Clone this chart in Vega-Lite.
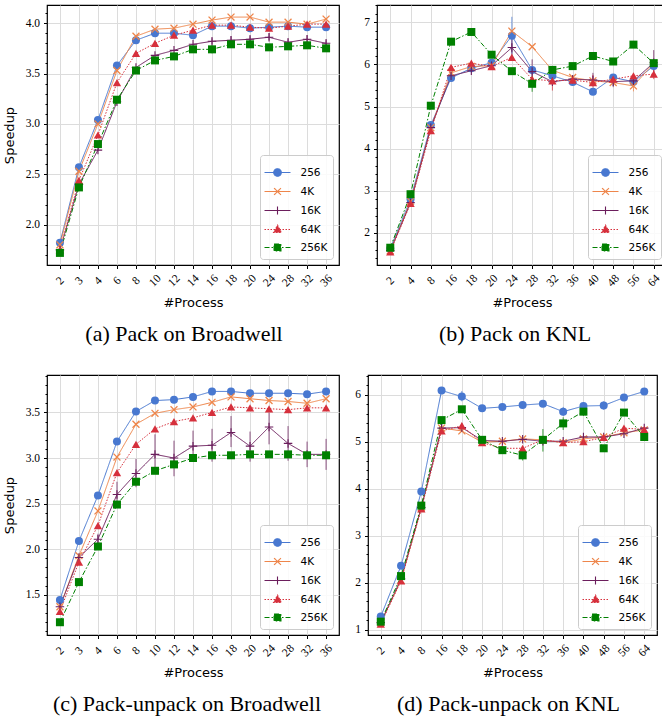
{
"$schema": "https://vega.github.io/schema/vega-lite/v6.json",
"padding": {"left": 2, "top": 3, "right": 0, "bottom": 0},
"autosize": {"type": "pad"},
"bounds": "full",
"spacing": 27,
"config": {
  "view": {"stroke": "black", "strokeWidth": 1.2},
  "axis": {"labelFont": "Liberation Serif", "labelFontSize": 11.5, "labelColor": "black", "titleFont": "DejaVu Sans", "titleFontSize": 13, "titleFontWeight": "normal", "titleColor": "black", "tickColor": "black", "tickSize": 3.5, "tickWidth": 1, "domain": false, "grid": true, "gridColor": "#dcdcdc", "gridWidth": 1},
  "axisX": {"labelAngle": -45, "labelAlign": "center", "labelBaseline": "middle", "labelPadding": 12, "titlePadding": 8, "labelOverlap": false},
  "axisY": {"labelPadding": 4, "titlePadding": 9},
  "legend": {"orient": "bottom-right", "offset": 6, "padding": 5, "fillColor": "rgba(255,255,255,0.85)", "strokeColor": "#cccccc", "cornerRadius": 3, "labelFont": "DejaVu Sans", "labelFontSize": 10.5, "labelColor": "black", "symbolSize": 529, "symbolOpacity": 1, "symbolStrokeWidth": 1.1, "labelOffset": 10.5, "rowPadding": 0},
  "title": {"font": "Liberation Serif", "fontSize": 22, "fontWeight": "normal", "color": "black", "orient": "bottom", "frame": "group", "anchor": "middle", "offset": 15, "baseline": "top"}
},
"datasets": {
"a": [
{"s":"256","p":2,"v":1.82},{"s":"256","p":3,"v":2.57},{"s":"256","p":4,"v":3.04},{"s":"256","p":6,"v":3.58},{"s":"256","p":8,"v":3.83},{"s":"256","p":10,"v":3.90},{"s":"256","p":12,"v":3.90},{"s":"256","p":14,"v":3.88},{"s":"256","p":16,"v":3.97},{"s":"256","p":18,"v":3.97},{"s":"256","p":20,"v":3.95},{"s":"256","p":24,"v":3.96},{"s":"256","p":28,"v":3.97},{"s":"256","p":32,"v":3.96},{"s":"256","p":36,"v":3.96},
{"s":"4K","p":2,"v":1.80},{"s":"4K","p":3,"v":2.53},{"s":"4K","p":4,"v":3.00},{"s":"4K","p":6,"v":3.53},{"s":"4K","p":8,"v":3.87},{"s":"4K","p":10,"v":3.94},{"s":"4K","p":12,"v":3.95},{"s":"4K","p":14,"v":3.99},{"s":"4K","p":16,"v":4.03},{"s":"4K","p":18,"v":4.06},{"s":"4K","p":20,"v":4.06},{"s":"4K","p":24,"v":4.01},{"s":"4K","p":28,"v":4.01},{"s":"4K","p":32,"v":3.99},{"s":"4K","p":36,"v":4.04},
{"s":"16K","p":2,"v":1.75},{"s":"16K","p":3,"v":2.40},{"s":"16K","p":4,"v":2.74},{"s":"16K","p":6,"v":3.22},{"s":"16K","p":8,"v":3.56},{"s":"16K","p":10,"v":3.68},{"s":"16K","p":12,"v":3.73},{"s":"16K","p":14,"v":3.79},{"s":"16K","p":16,"v":3.82,"lo":3.79,"hi":3.85},{"s":"16K","p":18,"v":3.83,"lo":3.79,"hi":3.87},{"s":"16K","p":20,"v":3.84,"lo":3.81,"hi":3.87},{"s":"16K","p":24,"v":3.86,"lo":3.83,"hi":3.90},{"s":"16K","p":28,"v":3.81,"lo":3.78,"hi":3.84},{"s":"16K","p":32,"v":3.84,"lo":3.81,"hi":3.88},{"s":"16K","p":36,"v":3.80,"lo":3.77,"hi":3.83},
{"s":"64K","p":2,"v":1.75},{"s":"64K","p":3,"v":2.44},{"s":"64K","p":4,"v":2.89},{"s":"64K","p":6,"v":3.41},{"s":"64K","p":8,"v":3.70},{"s":"64K","p":10,"v":3.80},{"s":"64K","p":12,"v":3.88},{"s":"64K","p":14,"v":3.93},{"s":"64K","p":16,"v":3.98},{"s":"64K","p":18,"v":3.98},{"s":"64K","p":20,"v":3.96},{"s":"64K","p":24,"v":3.95},{"s":"64K","p":28,"v":3.97},{"s":"64K","p":32,"v":3.99},{"s":"64K","p":36,"v":3.99},
{"s":"256K","p":2,"v":1.72},{"s":"256K","p":3,"v":2.37},{"s":"256K","p":4,"v":2.80},{"s":"256K","p":6,"v":3.24},{"s":"256K","p":8,"v":3.53},{"s":"256K","p":10,"v":3.63},{"s":"256K","p":12,"v":3.67},{"s":"256K","p":14,"v":3.74},{"s":"256K","p":16,"v":3.74,"lo":3.70,"hi":3.78},{"s":"256K","p":18,"v":3.79},{"s":"256K","p":20,"v":3.79},{"s":"256K","p":24,"v":3.76},{"s":"256K","p":28,"v":3.77},{"s":"256K","p":32,"v":3.78},{"s":"256K","p":36,"v":3.75}
],
"b": [
{"s":"256","p":2,"v":1.63},{"s":"256","p":4,"v":2.80},{"s":"256","p":8,"v":4.56},{"s":"256","p":16,"v":5.68},{"s":"256","p":18,"v":5.91},{"s":"256","p":20,"v":6.04},{"s":"256","p":24,"v":6.68,"lo":6.26,"hi":7.13},{"s":"256","p":28,"v":5.87},{"s":"256","p":32,"v":5.73},{"s":"256","p":36,"v":5.58},{"s":"256","p":40,"v":5.35},{"s":"256","p":48,"v":5.69},{"s":"256","p":56,"v":5.59},{"s":"256","p":64,"v":5.96},
{"s":"4K","p":2,"v":1.58},{"s":"4K","p":4,"v":2.75},{"s":"4K","p":8,"v":4.50},{"s":"4K","p":16,"v":5.80},{"s":"4K","p":18,"v":5.95},{"s":"4K","p":20,"v":5.97},{"s":"4K","p":24,"v":6.79},{"s":"4K","p":28,"v":6.42},{"s":"4K","p":32,"v":5.86},{"s":"4K","p":36,"v":5.69},{"s":"4K","p":40,"v":5.61},{"s":"4K","p":48,"v":5.57},{"s":"4K","p":56,"v":5.49,"lo":5.36,"hi":5.60},{"s":"4K","p":64,"v":6.03},
{"s":"16K","p":2,"v":1.58},{"s":"16K","p":4,"v":2.72},{"s":"16K","p":8,"v":4.50},{"s":"16K","p":16,"v":5.73},{"s":"16K","p":18,"v":5.85},{"s":"16K","p":20,"v":5.97},{"s":"16K","p":24,"v":6.40,"lo":6.15,"hi":6.65},{"s":"16K","p":28,"v":5.83,"lo":5.60,"hi":6.12},{"s":"16K","p":32,"v":5.59},{"s":"16K","p":36,"v":5.65},{"s":"16K","p":40,"v":5.63,"lo":5.50,"hi":5.80},{"s":"16K","p":48,"v":5.59,"lo":5.46,"hi":5.74},{"s":"16K","p":56,"v":5.61},{"s":"16K","p":64,"v":6.04,"lo":5.75,"hi":6.34},
{"s":"64K","p":2,"v":1.55},{"s":"64K","p":4,"v":2.70},{"s":"64K","p":8,"v":4.43},{"s":"64K","p":16,"v":5.93},{"s":"64K","p":18,"v":6.03},{"s":"64K","p":20,"v":5.95},{"s":"64K","p":24,"v":6.17},{"s":"64K","p":28,"v":5.65},{"s":"64K","p":32,"v":5.61,"lo":5.38,"hi":5.84},{"s":"64K","p":36,"v":5.63},{"s":"64K","p":40,"v":5.57,"lo":5.45,"hi":5.75},{"s":"64K","p":48,"v":5.65},{"s":"64K","p":56,"v":5.73},{"s":"64K","p":64,"v":5.77,"lo":5.65,"hi":5.92},
{"s":"256K","p":2,"v":1.65},{"s":"256K","p":4,"v":2.92},{"s":"256K","p":8,"v":5.02},{"s":"256K","p":16,"v":6.54},{"s":"256K","p":18,"v":6.77},{"s":"256K","p":20,"v":6.23},{"s":"256K","p":24,"v":5.84},{"s":"256K","p":28,"v":5.54,"lo":5.35,"hi":5.72},{"s":"256K","p":32,"v":5.87},{"s":"256K","p":36,"v":5.96},{"s":"256K","p":40,"v":6.20},{"s":"256K","p":48,"v":6.07},{"s":"256K","p":56,"v":6.47},{"s":"256K","p":64,"v":6.03}
],
"c": [
{"s":"256","p":2,"v":1.445},{"s":"256","p":3,"v":2.09},{"s":"256","p":4,"v":2.59},{"s":"256","p":6,"v":3.18},{"s":"256","p":8,"v":3.51},{"s":"256","p":10,"v":3.63},{"s":"256","p":12,"v":3.64},{"s":"256","p":14,"v":3.67},{"s":"256","p":16,"v":3.73},{"s":"256","p":18,"v":3.73},{"s":"256","p":20,"v":3.71},{"s":"256","p":24,"v":3.71},{"s":"256","p":28,"v":3.71},{"s":"256","p":32,"v":3.70},{"s":"256","p":36,"v":3.73},
{"s":"4K","p":2,"v":1.37},{"s":"4K","p":3,"v":1.93},{"s":"4K","p":4,"v":2.42},{"s":"4K","p":6,"v":3.01},{"s":"4K","p":8,"v":3.37},{"s":"4K","p":10,"v":3.49},{"s":"4K","p":12,"v":3.53},{"s":"4K","p":14,"v":3.56},{"s":"4K","p":16,"v":3.61},{"s":"4K","p":18,"v":3.67},{"s":"4K","p":20,"v":3.65},{"s":"4K","p":24,"v":3.63},{"s":"4K","p":28,"v":3.62},{"s":"4K","p":32,"v":3.60},{"s":"4K","p":36,"v":3.65},
{"s":"16K","p":2,"v":1.37},{"s":"16K","p":3,"v":1.91},{"s":"16K","p":4,"v":2.11,"lo":2.05,"hi":2.17},{"s":"16K","p":6,"v":2.60,"lo":2.47,"hi":2.74},{"s":"16K","p":8,"v":2.83,"lo":2.68,"hi":2.99},{"s":"16K","p":10,"v":3.04,"lo":2.84,"hi":3.26},{"s":"16K","p":12,"v":3.00,"lo":2.80,"hi":3.19},{"s":"16K","p":14,"v":3.13,"lo":2.97,"hi":3.30},{"s":"16K","p":16,"v":3.14,"lo":2.96,"hi":3.32},{"s":"16K","p":18,"v":3.28,"lo":3.12,"hi":3.46},{"s":"16K","p":20,"v":3.13,"lo":2.96,"hi":3.29},{"s":"16K","p":24,"v":3.34,"lo":3.15,"hi":3.50},{"s":"16K","p":28,"v":3.16,"lo":2.97,"hi":3.35},{"s":"16K","p":32,"v":3.04,"lo":2.90,"hi":3.18},{"s":"16K","p":36,"v":3.04,"lo":2.87,"hi":3.21},
{"s":"64K","p":2,"v":1.32},{"s":"64K","p":3,"v":1.86},{"s":"64K","p":4,"v":2.26},{"s":"64K","p":6,"v":2.84},{"s":"64K","p":8,"v":3.15},{"s":"64K","p":10,"v":3.32},{"s":"64K","p":12,"v":3.40},{"s":"64K","p":14,"v":3.44},{"s":"64K","p":16,"v":3.50},{"s":"64K","p":18,"v":3.56},{"s":"64K","p":20,"v":3.55},{"s":"64K","p":24,"v":3.54},{"s":"64K","p":28,"v":3.53},{"s":"64K","p":32,"v":3.55},{"s":"64K","p":36,"v":3.55},
{"s":"256K","p":2,"v":1.20},{"s":"256K","p":3,"v":1.64},{"s":"256K","p":4,"v":2.03},{"s":"256K","p":6,"v":2.49},{"s":"256K","p":8,"v":2.74},{"s":"256K","p":10,"v":2.86},{"s":"256K","p":12,"v":2.93},{"s":"256K","p":14,"v":3.00},{"s":"256K","p":16,"v":3.03},{"s":"256K","p":18,"v":3.03},{"s":"256K","p":20,"v":3.04},{"s":"256K","p":24,"v":3.04},{"s":"256K","p":28,"v":3.04},{"s":"256K","p":32,"v":3.03},{"s":"256K","p":36,"v":3.03}
],
"d": [
{"s":"256","p":2,"v":1.28},{"s":"256","p":4,"v":2.36},{"s":"256","p":8,"v":3.94},{"s":"256","p":16,"v":6.09},{"s":"256","p":18,"v":5.96,"lo":5.86,"hi":6.08},{"s":"256","p":20,"v":5.71},{"s":"256","p":24,"v":5.74},{"s":"256","p":28,"v":5.78},{"s":"256","p":32,"v":5.81},{"s":"256","p":36,"v":5.64,"lo":5.55,"hi":5.74},{"s":"256","p":40,"v":5.76},{"s":"256","p":48,"v":5.77,"lo":5.68,"hi":5.86},{"s":"256","p":56,"v":5.94},{"s":"256","p":64,"v":6.07},
{"s":"4K","p":2,"v":1.15},{"s":"4K","p":4,"v":2.05},{"s":"4K","p":8,"v":3.60},{"s":"4K","p":16,"v":5.29},{"s":"4K","p":18,"v":5.23},{"s":"4K","p":20,"v":4.99},{"s":"4K","p":24,"v":5.01},{"s":"4K","p":28,"v":5.06},{"s":"4K","p":32,"v":5.04},{"s":"4K","p":36,"v":4.98},{"s":"4K","p":40,"v":5.06},{"s":"4K","p":48,"v":5.10},{"s":"4K","p":56,"v":5.19},{"s":"4K","p":64,"v":5.25},
{"s":"16K","p":2,"v":1.15},{"s":"16K","p":4,"v":2.08},{"s":"16K","p":8,"v":3.60},{"s":"16K","p":16,"v":5.29},{"s":"16K","p":18,"v":5.30},{"s":"16K","p":20,"v":5.03},{"s":"16K","p":24,"v":5.01},{"s":"16K","p":28,"v":5.05},{"s":"16K","p":32,"v":5.01},{"s":"16K","p":36,"v":5.01},{"s":"16K","p":40,"v":5.10},{"s":"16K","p":48,"v":5.10},{"s":"16K","p":56,"v":5.17},{"s":"16K","p":64,"v":5.29},
{"s":"64K","p":2,"v":1.12},{"s":"64K","p":4,"v":2.04},{"s":"64K","p":8,"v":3.57},{"s":"64K","p":16,"v":5.23},{"s":"64K","p":18,"v":5.34},{"s":"64K","p":20,"v":4.98},{"s":"64K","p":24,"v":4.86},{"s":"64K","p":28,"v":4.86},{"s":"64K","p":32,"v":5.04},{"s":"64K","p":36,"v":4.98},{"s":"64K","p":40,"v":5.00},{"s":"64K","p":48,"v":5.09},{"s":"64K","p":56,"v":5.29},{"s":"64K","p":64,"v":5.26},
{"s":"256K","p":2,"v":1.17},{"s":"256K","p":4,"v":2.14},{"s":"256K","p":8,"v":3.64},{"s":"256K","p":16,"v":5.46},{"s":"256K","p":18,"v":5.69},{"s":"256K","p":20,"v":5.04},{"s":"256K","p":24,"v":4.82},{"s":"256K","p":28,"v":4.71,"lo":4.60,"hi":4.82},{"s":"256K","p":32,"v":5.04,"lo":4.79,"hi":5.27},{"s":"256K","p":36,"v":5.39,"lo":5.25,"hi":5.52},{"s":"256K","p":40,"v":5.64,"lo":5.55,"hi":5.72},{"s":"256K","p":48,"v":4.86},{"s":"256K","p":56,"v":5.62},{"s":"256K","p":64,"v":5.10}
]
},
"resolve": {"scale": {"color": "independent", "shape": "independent", "stroke": "independent", "strokeDash": "independent"}},
"vconcat": [
{"hconcat": [
 {"width": 292, "height": 260, "data": {"name": "a"},
  "title": {"text": "(a) Pack on Broadwell", "dx": -9},
  "encoding": {
   "x": {"field": "p", "type": "ordinal", "scale": {"type": "point", "domain": [2,3,4,6,8,10,12,14,16,18,20,24,28,32,36], "padding": 0.68}, "axis": {"title": "#Process"}},
   "color": {"field": "s", "type": "nominal", "scale": {"domain": ["256","4K","16K","64K","256K"], "range": ["#4878d0","#ee854a","#6b1d5c","#d6303c","#008000"]}, "legend": {"title": null}}
  },
  "layer": [
   {"mark": {"type": "line", "strokeWidth": 1},
    "encoding": {"y": {"field": "v", "type": "quantitative", "scale": {"domain": [1.6,4.18], "nice": false, "zero": false}, "axis": {"title": "Speedup", "values": [2.0,2.5,3.0,3.5,4.0], "format": ".1f"}},
     "strokeDash": {"field": "s", "type": "nominal", "scale": {"domain": ["256","4K","16K","64K","256K"], "range": [[1,0],[1,0],[1,0],[1.5,1.5],[5,2,1.5,2]]}, "legend": {"title": null}}}},
   {"mark": {"type": "rule", "strokeWidth": 1, "opacity": 0.75},
    "encoding": {"y": {"field": "lo", "type": "quantitative", "scale": {"domain": [1.6,4.18], "nice": false, "zero": false}, "axis": {"orient": "left", "title": null, "labels": false, "grid": false, "domain": false, "tickSize": 2, "values": [1.7,1.8,1.9,2.0,2.1,2.2,2.3,2.4,2.5,2.6,2.7,2.8,2.9,3.0,3.1,3.2,3.3,3.4,3.5,3.6,3.7,3.8,3.9,4.0,4.1]}}, "y2": {"field": "hi"}}},
   {"transform": [{"filter": "datum.s==='256'"}], "mark": {"type": "point", "shape": "circle", "filled": true, "opacity": 1, "size": 64},
    "encoding": {"y": {"field": "v", "type": "quantitative", "scale": {"domain": [1.6,4.18], "nice": false, "zero": false}, "axis": null}}},
   {"transform": [{"filter": "datum.s==='4K'"}], "mark": {"type": "point", "shape": "M-1,-1L1,1M-1,1L1,-1", "filled": false, "strokeWidth": 1.3, "opacity": 1, "size": 48},
    "encoding": {"y": {"field": "v", "type": "quantitative", "scale": {"domain": [1.6,4.18], "nice": false, "zero": false}, "axis": null}}},
   {"transform": [{"filter": "datum.s==='16K'"}], "mark": {"type": "point", "shape": "M-1,0H1M0,-1V1", "filled": false, "strokeWidth": 1.1, "opacity": 1, "size": 72},
    "encoding": {"y": {"field": "v", "type": "quantitative", "scale": {"domain": [1.6,4.18], "nice": false, "zero": false}, "axis": null}}},
   {"transform": [{"filter": "datum.s==='64K'"}], "mark": {"type": "point", "shape": "triangle-up", "filled": true, "opacity": 1, "size": 70},
    "encoding": {"y": {"field": "v", "type": "quantitative", "scale": {"domain": [1.6,4.18], "nice": false, "zero": false}, "axis": null}}},
   {"transform": [{"filter": "datum.s==='256K'"}], "mark": {"type": "point", "shape": "square", "filled": true, "opacity": 1, "size": 64},
    "encoding": {"y": {"field": "v", "type": "quantitative", "scale": {"domain": [1.6,4.18], "nice": false, "zero": false}, "axis": null}}},
   {"mark": {"type": "point", "filled": true, "opacity": 0, "size": 4},
    "encoding": {"y": {"field": "v", "type": "quantitative", "scale": {"domain": [1.6,4.18], "nice": false, "zero": false}, "axis": null},
     "shape": {"field": "s", "type": "nominal", "scale": {"domain": ["256","4K","16K","64K","256K"], "range": ["M-1.13,0H1.13M0.33,0A0.33,0.33 0 1,1 -0.33,0A0.33,0.33 0 1,1 0.33,0Z","M-1.13,0H1.13M-0.3,-0.3L0.3,0.3M-0.3,0.3L0.3,-0.3","M-1.13,0H1.13M0,-0.34V0.34","M-1.13,0H1.13M0,-0.37L0.34,0.25L-0.34,0.25Z","M-1.13,0H1.13M-0.3,-0.3H0.3V0.3H-0.3Z"]}, "legend": {"title": null}},
     "stroke": {"field": "s", "type": "nominal", "scale": {"domain": ["256","4K","16K","64K","256K"], "range": ["#4878d0","#ee854a","#6b1d5c","#d6303c","#008000"]}, "legend": {"title": null}}}}
  ],
  "resolve": {"axis": {"y": "independent"}}
 },
 {"width": 290, "height": 260, "data": {"name": "b"},
  "title": {"text": "(b) Pack on KNL", "dx": -7},
  "encoding": {
   "x": {"field": "p", "type": "ordinal", "scale": {"type": "point", "domain": [2,4,8,16,18,20,24,28,32,36,40,48,56,64], "padding": 0.655}, "axis": {"title": "#Process"}},
   "color": {"field": "s", "type": "nominal", "scale": {"domain": ["256","4K","16K","64K","256K"], "range": ["#4878d0","#ee854a","#6b1d5c","#d6303c","#008000"]}, "legend": {"title": null}}
  },
  "layer": [
   {"mark": {"type": "line", "strokeWidth": 1},
    "encoding": {"y": {"field": "v", "type": "quantitative", "scale": {"domain": [1.24,7.41], "nice": false, "zero": false}, "axis": {"title": null, "values": [2,3,4,5,6,7], "format": "d"}},
     "strokeDash": {"field": "s", "type": "nominal", "scale": {"domain": ["256","4K","16K","64K","256K"], "range": [[1,0],[1,0],[1,0],[1.5,1.5],[5,2,1.5,2]]}, "legend": {"title": null}}}},
   {"mark": {"type": "rule", "strokeWidth": 1, "opacity": 0.75},
    "encoding": {"y": {"field": "lo", "type": "quantitative", "scale": {"domain": [1.24,7.41], "nice": false, "zero": false}, "axis": {"orient": "left", "title": null, "labels": false, "grid": false, "domain": false, "tickSize": 2, "values": [1.4,1.6,1.8,2.0,2.2,2.4,2.6,2.8,3.0,3.2,3.4,3.6,3.8,4.0,4.2,4.4,4.6,4.8,5.0,5.2,5.4,5.6,5.8,6.0,6.2,6.4,6.6,6.8,7.0,7.2,7.4]}}, "y2": {"field": "hi"}}},
   {"transform": [{"filter": "datum.s==='256'"}], "mark": {"type": "point", "shape": "circle", "filled": true, "opacity": 1, "size": 64},
    "encoding": {"y": {"field": "v", "type": "quantitative", "scale": {"domain": [1.24,7.41], "nice": false, "zero": false}, "axis": null}}},
   {"transform": [{"filter": "datum.s==='4K'"}], "mark": {"type": "point", "shape": "M-1,-1L1,1M-1,1L1,-1", "filled": false, "strokeWidth": 1.3, "opacity": 1, "size": 48},
    "encoding": {"y": {"field": "v", "type": "quantitative", "scale": {"domain": [1.24,7.41], "nice": false, "zero": false}, "axis": null}}},
   {"transform": [{"filter": "datum.s==='16K'"}], "mark": {"type": "point", "shape": "M-1,0H1M0,-1V1", "filled": false, "strokeWidth": 1.1, "opacity": 1, "size": 72},
    "encoding": {"y": {"field": "v", "type": "quantitative", "scale": {"domain": [1.24,7.41], "nice": false, "zero": false}, "axis": null}}},
   {"transform": [{"filter": "datum.s==='64K'"}], "mark": {"type": "point", "shape": "triangle-up", "filled": true, "opacity": 1, "size": 70},
    "encoding": {"y": {"field": "v", "type": "quantitative", "scale": {"domain": [1.24,7.41], "nice": false, "zero": false}, "axis": null}}},
   {"transform": [{"filter": "datum.s==='256K'"}], "mark": {"type": "point", "shape": "square", "filled": true, "opacity": 1, "size": 64},
    "encoding": {"y": {"field": "v", "type": "quantitative", "scale": {"domain": [1.24,7.41], "nice": false, "zero": false}, "axis": null}}},
   {"mark": {"type": "point", "filled": true, "opacity": 0, "size": 4},
    "encoding": {"y": {"field": "v", "type": "quantitative", "scale": {"domain": [1.24,7.41], "nice": false, "zero": false}, "axis": null},
     "shape": {"field": "s", "type": "nominal", "scale": {"domain": ["256","4K","16K","64K","256K"], "range": ["M-1.13,0H1.13M0.33,0A0.33,0.33 0 1,1 -0.33,0A0.33,0.33 0 1,1 0.33,0Z","M-1.13,0H1.13M-0.3,-0.3L0.3,0.3M-0.3,0.3L0.3,-0.3","M-1.13,0H1.13M0,-0.34V0.34","M-1.13,0H1.13M0,-0.37L0.34,0.25L-0.34,0.25Z","M-1.13,0H1.13M-0.3,-0.3H0.3V0.3H-0.3Z"]}, "legend": {"title": null}},
     "stroke": {"field": "s", "type": "nominal", "scale": {"domain": ["256","4K","16K","64K","256K"], "range": ["#4878d0","#ee854a","#6b1d5c","#d6303c","#008000"]}, "legend": {"title": null}}}}
  ],
  "resolve": {"axis": {"y": "independent"}}
 }
], "spacing": 38, "bounds": "flush",
 "resolve": {"scale": {"color": "independent", "shape": "independent", "stroke": "independent", "strokeDash": "independent"}}},
{"hconcat": [
 {"width": 292, "height": 260, "data": {"name": "c"},
  "title": {"text": "(c) Pack-unpack on Broadwell", "dx": -6},
  "encoding": {
   "x": {"field": "p", "type": "ordinal", "scale": {"type": "point", "domain": [2,3,4,6,8,10,12,14,16,18,20,24,28,32,36], "padding": 0.68}, "axis": {"title": "#Process"}},
   "color": {"field": "s", "type": "nominal", "scale": {"domain": ["256","4K","16K","64K","256K"], "range": ["#4878d0","#ee854a","#6b1d5c","#d6303c","#008000"]}, "legend": {"title": null}}
  },
  "layer": [
   {"mark": {"type": "line", "strokeWidth": 1},
    "encoding": {"y": {"field": "v", "type": "quantitative", "scale": {"domain": [1.06,3.91], "nice": false, "zero": false}, "axis": {"title": "Speedup", "values": [1.5,2.0,2.5,3.0,3.5], "format": ".1f"}},
     "strokeDash": {"field": "s", "type": "nominal", "scale": {"domain": ["256","4K","16K","64K","256K"], "range": [[1,0],[1,0],[1,0],[1.5,1.5],[5,2,1.5,2]]}, "legend": {"title": null}}}},
   {"mark": {"type": "rule", "strokeWidth": 1, "opacity": 0.75},
    "encoding": {"y": {"field": "lo", "type": "quantitative", "scale": {"domain": [1.06,3.91], "nice": false, "zero": false}, "axis": {"orient": "left", "title": null, "labels": false, "grid": false, "domain": false, "tickSize": 2, "values": [1.1,1.2,1.3,1.4,1.5,1.6,1.7,1.8,1.9,2.0,2.1,2.2,2.3,2.4,2.5,2.6,2.7,2.8,2.9,3.0,3.1,3.2,3.3,3.4,3.5,3.6,3.7,3.8,3.9]}}, "y2": {"field": "hi"}}},
   {"transform": [{"filter": "datum.s==='256'"}], "mark": {"type": "point", "shape": "circle", "filled": true, "opacity": 1, "size": 64},
    "encoding": {"y": {"field": "v", "type": "quantitative", "scale": {"domain": [1.06,3.91], "nice": false, "zero": false}, "axis": null}}},
   {"transform": [{"filter": "datum.s==='4K'"}], "mark": {"type": "point", "shape": "M-1,-1L1,1M-1,1L1,-1", "filled": false, "strokeWidth": 1.3, "opacity": 1, "size": 48},
    "encoding": {"y": {"field": "v", "type": "quantitative", "scale": {"domain": [1.06,3.91], "nice": false, "zero": false}, "axis": null}}},
   {"transform": [{"filter": "datum.s==='16K'"}], "mark": {"type": "point", "shape": "M-1,0H1M0,-1V1", "filled": false, "strokeWidth": 1.1, "opacity": 1, "size": 72},
    "encoding": {"y": {"field": "v", "type": "quantitative", "scale": {"domain": [1.06,3.91], "nice": false, "zero": false}, "axis": null}}},
   {"transform": [{"filter": "datum.s==='64K'"}], "mark": {"type": "point", "shape": "triangle-up", "filled": true, "opacity": 1, "size": 70},
    "encoding": {"y": {"field": "v", "type": "quantitative", "scale": {"domain": [1.06,3.91], "nice": false, "zero": false}, "axis": null}}},
   {"transform": [{"filter": "datum.s==='256K'"}], "mark": {"type": "point", "shape": "square", "filled": true, "opacity": 1, "size": 64},
    "encoding": {"y": {"field": "v", "type": "quantitative", "scale": {"domain": [1.06,3.91], "nice": false, "zero": false}, "axis": null}}},
   {"mark": {"type": "point", "filled": true, "opacity": 0, "size": 4},
    "encoding": {"y": {"field": "v", "type": "quantitative", "scale": {"domain": [1.06,3.91], "nice": false, "zero": false}, "axis": null},
     "shape": {"field": "s", "type": "nominal", "scale": {"domain": ["256","4K","16K","64K","256K"], "range": ["M-1.13,0H1.13M0.33,0A0.33,0.33 0 1,1 -0.33,0A0.33,0.33 0 1,1 0.33,0Z","M-1.13,0H1.13M-0.3,-0.3L0.3,0.3M-0.3,0.3L0.3,-0.3","M-1.13,0H1.13M0,-0.34V0.34","M-1.13,0H1.13M0,-0.37L0.34,0.25L-0.34,0.25Z","M-1.13,0H1.13M-0.3,-0.3H0.3V0.3H-0.3Z"]}, "legend": {"title": null}},
     "stroke": {"field": "s", "type": "nominal", "scale": {"domain": ["256","4K","16K","64K","256K"], "range": ["#4878d0","#ee854a","#6b1d5c","#d6303c","#008000"]}, "legend": {"title": null}}}}
  ],
  "resolve": {"axis": {"y": "independent"}}
 },
 {"width": 289, "height": 260, "data": {"name": "d"},
  "title": {"text": "(d) Pack-unpack on KNL", "dx": -4},
  "encoding": {
   "x": {"field": "p", "type": "ordinal", "scale": {"type": "point", "domain": [2,4,8,16,18,20,24,28,32,36,40,48,56,64], "padding": 0.63}, "axis": {"title": "#Process"}},
   "color": {"field": "s", "type": "nominal", "scale": {"domain": ["256","4K","16K","64K","256K"], "range": ["#4878d0","#ee854a","#6b1d5c","#d6303c","#008000"]}, "legend": {"title": null}}
  },
  "layer": [
   {"mark": {"type": "line", "strokeWidth": 1},
    "encoding": {"y": {"field": "v", "type": "quantitative", "scale": {"domain": [0.886,6.42], "nice": false, "zero": false}, "axis": {"title": null, "values": [1,2,3,4,5,6], "format": "d"}},
     "strokeDash": {"field": "s", "type": "nominal", "scale": {"domain": ["256","4K","16K","64K","256K"], "range": [[1,0],[1,0],[1,0],[1.5,1.5],[5,2,1.5,2]]}, "legend": {"title": null}}}},
   {"mark": {"type": "rule", "strokeWidth": 1, "opacity": 0.75},
    "encoding": {"y": {"field": "lo", "type": "quantitative", "scale": {"domain": [0.886,6.42], "nice": false, "zero": false}, "axis": {"orient": "left", "title": null, "labels": false, "grid": false, "domain": false, "tickSize": 2, "values": [1.0,1.2,1.4,1.6,1.8,2.0,2.2,2.4,2.6,2.8,3.0,3.2,3.4,3.6,3.8,4.0,4.2,4.4,4.6,4.8,5.0,5.2,5.4,5.6,5.8,6.0,6.2,6.4]}}, "y2": {"field": "hi"}}},
   {"transform": [{"filter": "datum.s==='256'"}], "mark": {"type": "point", "shape": "circle", "filled": true, "opacity": 1, "size": 64},
    "encoding": {"y": {"field": "v", "type": "quantitative", "scale": {"domain": [0.886,6.42], "nice": false, "zero": false}, "axis": null}}},
   {"transform": [{"filter": "datum.s==='4K'"}], "mark": {"type": "point", "shape": "M-1,-1L1,1M-1,1L1,-1", "filled": false, "strokeWidth": 1.3, "opacity": 1, "size": 48},
    "encoding": {"y": {"field": "v", "type": "quantitative", "scale": {"domain": [0.886,6.42], "nice": false, "zero": false}, "axis": null}}},
   {"transform": [{"filter": "datum.s==='16K'"}], "mark": {"type": "point", "shape": "M-1,0H1M0,-1V1", "filled": false, "strokeWidth": 1.1, "opacity": 1, "size": 72},
    "encoding": {"y": {"field": "v", "type": "quantitative", "scale": {"domain": [0.886,6.42], "nice": false, "zero": false}, "axis": null}}},
   {"transform": [{"filter": "datum.s==='64K'"}], "mark": {"type": "point", "shape": "triangle-up", "filled": true, "opacity": 1, "size": 70},
    "encoding": {"y": {"field": "v", "type": "quantitative", "scale": {"domain": [0.886,6.42], "nice": false, "zero": false}, "axis": null}}},
   {"transform": [{"filter": "datum.s==='256K'"}], "mark": {"type": "point", "shape": "square", "filled": true, "opacity": 1, "size": 64},
    "encoding": {"y": {"field": "v", "type": "quantitative", "scale": {"domain": [0.886,6.42], "nice": false, "zero": false}, "axis": null}}},
   {"mark": {"type": "point", "filled": true, "opacity": 0, "size": 4},
    "encoding": {"y": {"field": "v", "type": "quantitative", "scale": {"domain": [0.886,6.42], "nice": false, "zero": false}, "axis": null},
     "shape": {"field": "s", "type": "nominal", "scale": {"domain": ["256","4K","16K","64K","256K"], "range": ["M-1.13,0H1.13M0.33,0A0.33,0.33 0 1,1 -0.33,0A0.33,0.33 0 1,1 0.33,0Z","M-1.13,0H1.13M-0.3,-0.3L0.3,0.3M-0.3,0.3L0.3,-0.3","M-1.13,0H1.13M0,-0.34V0.34","M-1.13,0H1.13M0,-0.37L0.34,0.25L-0.34,0.25Z","M-1.13,0H1.13M-0.3,-0.3H0.3V0.3H-0.3Z"]}, "legend": {"title": null}},
     "stroke": {"field": "s", "type": "nominal", "scale": {"domain": ["256","4K","16K","64K","256K"], "range": ["#4878d0","#ee854a","#6b1d5c","#d6303c","#008000"]}, "legend": {"title": null}}}}
  ],
  "resolve": {"axis": {"y": "independent"}}
 }
], "spacing": 29, "bounds": "flush",
 "resolve": {"scale": {"color": "independent", "shape": "independent", "stroke": "independent", "strokeDash": "independent"}}}
]
}
